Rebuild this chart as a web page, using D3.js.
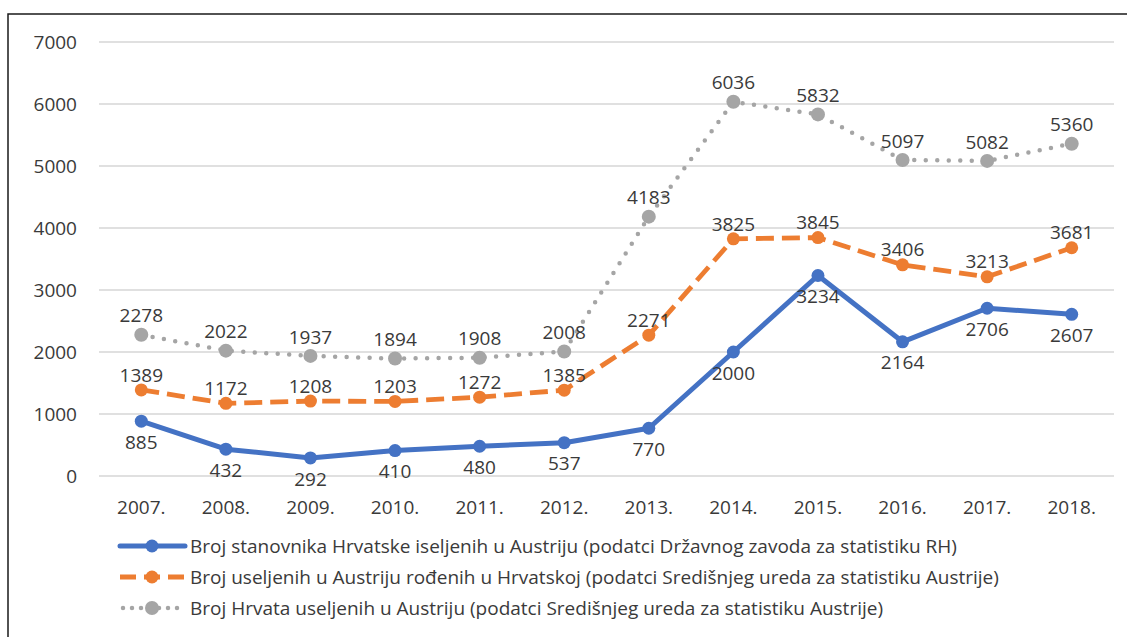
<!DOCTYPE html>
<html><head><meta charset="utf-8">
<script src="https://cdn.jsdelivr.net/npm/d3@7"></script>
<style>
html,body{margin:0;padding:0;background:#fff;}
svg{display:block;}
text{font-family:"Open Sans",sans-serif;fill:#3a3a3a;}
</style></head>
<body>
<svg id="chart" width="1127" height="637"></svg>
<script>
const years = ["2007.","2008.","2009.","2010.","2011.","2012.","2013.","2014.","2015.","2016.","2017.","2018."];
const blueValues = [885, 432, 292, 410, 480, 537, 770, 2000, 3234, 2164, 2706, 2607];
const orangeValues = [1389, 1172, 1208, 1203, 1272, 1385, 2271, 3825, 3845, 3406, 3213, 3681];
const grayValues = [2278, 2022, 1937, 1894, 1908, 2008, 4183, 6036, 5832, 5097, 5082, 5360];
const yTicks = [0, 1000, 2000, 3000, 4000, 5000, 6000, 7000];
const seriesNames = [
  "Broj stanovnika Hrvatske iseljenih u Austriju (podatci Državnog zavoda za statistiku RH)",
  "Broj useljenih u Austriju rođenih u Hrvatskoj (podatci Središnjeg ureda za statistiku Austrije)",
  "Broj Hrvata useljenih u Austriju (podatci Središnjeg ureda za statistiku Austrije)"
];

const FS = "19px";
const svg = d3.select("#chart");
// frame
svg.append("path").attr("d","M8,640V14H1130").attr("fill","none").attr("stroke","#1a1a1a").attr("stroke-width",1.5);

const x = d3.scaleBand().domain(years).range([99,1114]);
const y = d3.scaleLinear().domain([0,7000]).range([476,42]);
const cx = d => x(d) + x.bandwidth()/2;

// gridlines
svg.append("g").selectAll("line").data(yTicks).join("line")
  .attr("x1",99).attr("x2",1114).attr("y1",d=>y(d)).attr("y2",d=>y(d))
  .attr("stroke","#d6d6d6").attr("stroke-width",1.5);

// y axis labels
const yAxis = d3.axisLeft(y).tickValues(yTicks).tickSize(0).tickPadding(0).tickFormat(d3.format("d"));
const gy = svg.append("g").attr("transform","translate(77,0)").call(yAxis);
gy.select(".domain").remove();
gy.selectAll("text").style("font-family","'Open Sans',sans-serif").style("font-size",FS).attr("fill","#3a3a3a").attr("dy","0.35em");

// x axis labels
const xAxis = d3.axisBottom(x).tickSize(0).tickPadding(0);
const gx = svg.append("g").attr("transform","translate(0,507)").call(xAxis);
gx.select(".domain").remove();
gx.selectAll("text").style("font-family","'Open Sans',sans-serif").style("font-size",FS).attr("fill","#3a3a3a").attr("dy","0.35em");

const series = [
  {vals: grayValues, color:"#a5a5a5", dash:"0 11.5", cap:"round", width:4.5, r:7, dy:-19},
  {vals: orangeValues, color:"#ed7d31", dash:"18 8", cap:"butt", width:4.8, r:6.5, dy:-15},
  {vals: blueValues, color:"#4472c4", dash:null, cap:"round", width:5, r:6.5, dy:21}
];

const line = d3.line().x((d,i)=>cx(years[i])).y(d=>y(d));
series.forEach(s=>{
  const g = svg.append("g");
  g.append("path").attr("d",line(s.vals)).attr("fill","none").attr("stroke",s.color)
    .attr("stroke-width",s.width).attr("stroke-dasharray",s.dash).attr("stroke-linecap",s.cap).attr("stroke-linejoin","round");
  g.selectAll("circle").data(s.vals).join("circle")
    .attr("cx",(d,i)=>cx(years[i])).attr("cy",d=>y(d)).attr("r",s.r).attr("fill",s.color);
});
series.forEach(s=>{
  svg.append("g").selectAll("text").data(s.vals).join("text")
    .attr("x",(d,i)=>cx(years[i])).attr("y",d=>y(d)+s.dy).attr("dy","0.35em")
    .attr("text-anchor","middle").style("font-size",FS).text(d=>d);
});

// legend
const legendSeries = [series[2], series[1], series[0]];
legendSeries.forEach((s,i)=>{
  const ly = 546 + i*31;
  const g = svg.append("g");
  g.append("line").attr("x1",120).attr("x2",185).attr("y1",ly).attr("y2",ly)
    .attr("stroke",s.color).attr("stroke-width",s.width)
    .attr("stroke-dasharray", i===1 ? "16 8" : (i===2 ? "0 9" : null))
    .attr("stroke-dashoffset", i===2 ? -3 : 0)
    .attr("stroke-linecap",s.cap);
  g.append("circle").attr("cx",152).attr("cy",ly).attr("r",s.r).attr("fill",s.color);
  g.append("text").attr("x",190).attr("y",ly).attr("dy","0.35em").style("font-size",FS).text(seriesNames[i]);
});
</script>
</body></html>
